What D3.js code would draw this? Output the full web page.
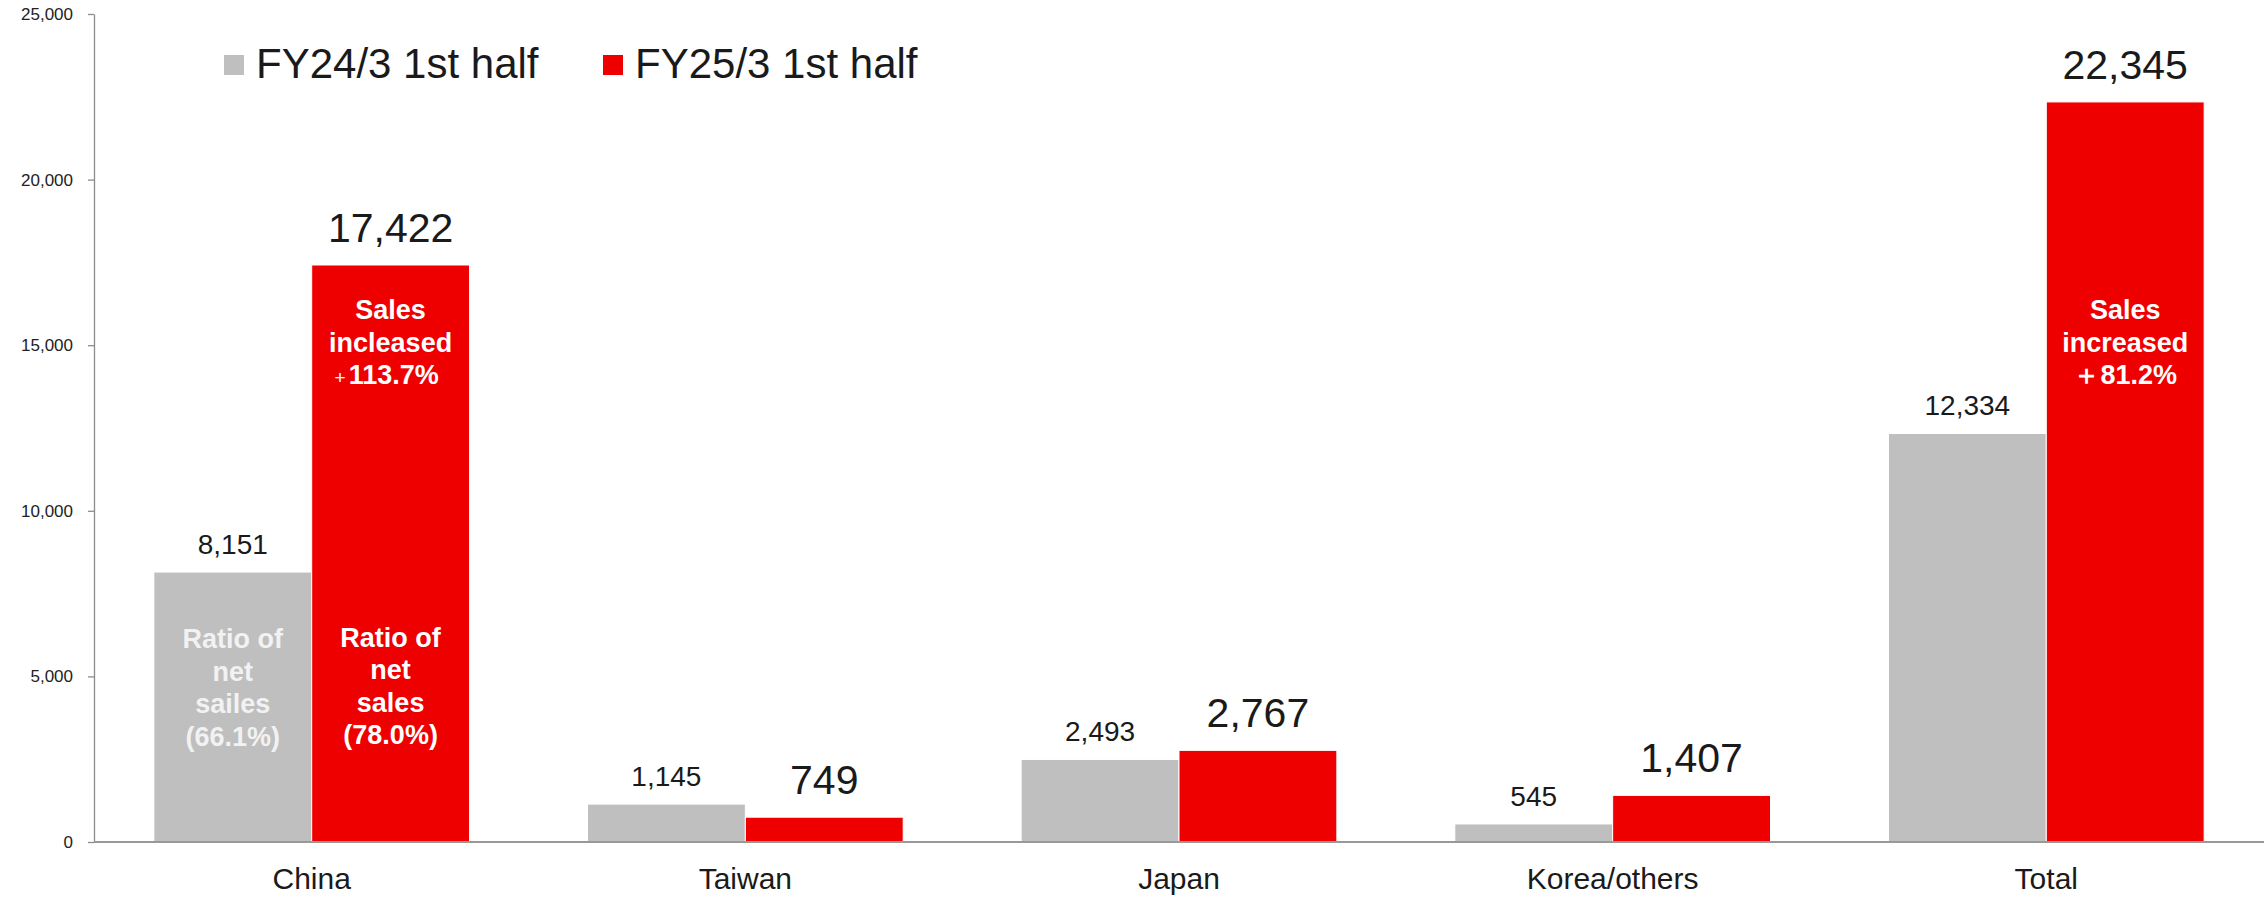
<!DOCTYPE html>
<html>
<head>
<meta charset="utf-8">
<script src="https://cdn.jsdelivr.net/npm/d3@7"></script>
<style>
  body { margin: 0; background: #fff; }
  svg { display: block; font-family: "Liberation Sans", Arial, sans-serif; }
</style>
</head>
<body>
<div id="chart"></div>
<script>
// Data
const categories = ["China", "Taiwan", "Japan", "Korea/others", "Total"];
const seriesNames = ["FY24/3 1st half", "FY25/3 1st half"];
const prevValues = [8151, 1145, 2493, 545, 12334];
const currValues = [17422, 749, 2767, 1407, 22345];
const yTicks = [0, 5000, 10000, 15000, 20000, 25000];

// Notes written inside bars: category, series index, lines, value of first baseline
const barNotes = [
  { cat: "China", s: 0, lines: ["Ratio of", "net", "sailes", "(66.1%)"], at: 5850 },
  { cat: "China", s: 1, lines: ["Ratio of", "net", "sales", "(78.0%)"], at: 5900 },
  { cat: "China", s: 1, lines: ["Sales", "incleased", "+113.7%"], at: 15790 },
  { cat: "Total", s: 1, lines: ["Sales", "increased", "＋81.2%"], at: 15790 }
];

const width = 2264;
const height = 897;
const margin = { top: 14, right: 0, bottom: 55, left: 94 };
const colors = ["#bfbfbf", "#ee0000"];
const noteColors = ["#f2f2f2", "#ffffff"];

const svg = d3.select("#chart")
  .append("svg")
  .attr("width", width)
  .attr("height", height);

const x0 = d3.scaleBand()
  .domain(categories)
  .range([margin.left, width - margin.right])
  .paddingInner(0.272)
  .paddingOuter(0.138);

const x1 = d3.scaleBand()
  .domain([0, 1])
  .range([0, x0.bandwidth()]);

const y = d3.scaleLinear()
  .domain([0, 25000])
  .range([height - margin.bottom, margin.top]);

const rows = categories.map((c, i) => ({ cat: c, vals: [prevValues[i], currValues[i]] }));

// Y axis
const yAxis = d3.axisLeft(y)
  .tickValues(yTicks)
  .tickFormat(d3.format(","))
  .tickSize(6)
  .tickSizeOuter(0)
  .tickPadding(15);

const gy = svg.append("g")
  .attr("transform", `translate(${margin.left},0)`)
  .call(yAxis);
gy.select(".domain").attr("stroke", "#8c8c8c").attr("stroke-width", 1.3);
gy.selectAll(".tick line").attr("stroke", "#8c8c8c").attr("stroke-width", 1.3);
gy.selectAll(".tick text")
  .attr("font-size", 17)
  .attr("fill", "#222")
  .attr("font-family", "Liberation Sans, Arial, sans-serif");

// Bars
const groups = svg.append("g")
  .selectAll("g")
  .data(rows)
  .join("g")
  .attr("transform", d => `translate(${x0(d.cat)},0)`);

groups.selectAll("rect")
  .data(d => d.vals.map((v, s) => ({ v, s })))
  .join("rect")
  .attr("x", d => x1(d.s))
  .attr("y", d => y(d.v))
  .attr("width", x1.bandwidth())
  .attr("height", d => y(0) - y(d.v))
  .attr("fill", d => colors[d.s])
  .attr("stroke", "#fff")
  .attr("stroke-width", 1);

// Value labels
groups.selectAll("text.value")
  .data(d => d.vals.map((v, s) => ({ v, s })))
  .join("text")
  .attr("class", "value")
  .attr("x", d => x1(d.s) + x1.bandwidth() / 2)
  .attr("y", d => y(d.v) - (d.s === 0 ? 18 : 23))
  .attr("text-anchor", "middle")
  .attr("font-size", d => d.s === 0 ? 28 : 41)
  .attr("fill", "#1a1a1a")
  .text(d => d3.format(",")(d.v));

// X baseline
svg.append("line")
  .attr("x1", margin.left)
  .attr("x2", width)
  .attr("y1", y(0))
  .attr("y2", y(0))
  .attr("stroke", "#999")
  .attr("stroke-width", 2);

// Category labels
svg.append("g")
  .selectAll("text")
  .data(categories)
  .join("text")
  .attr("x", d => x0(d) + x0.bandwidth() / 2)
  .attr("y", y(0) + 47)
  .attr("text-anchor", "middle")
  .attr("font-size", 30)
  .attr("fill", "#1a1a1a")
  .text(d => d);

// Notes inside bars
const noteLine = 32.5;
svg.append("g")
  .selectAll("text")
  .data(barNotes)
  .join("text")
  .attr("text-anchor", "middle")
  .attr("font-weight", "bold")
  .attr("font-size", 27)
  .attr("fill", d => noteColors[d.s])
  .each(function (d) {
    const cx = x0(d.cat) + x1(d.s) + x1.bandwidth() / 2;
    const top = y(d.at);
    const t = d3.select(this);
    d.lines.forEach((l, i) => {
      if (l.startsWith("+")) {
        // small plain plus sign in front of the figure
        t.append("tspan")
          .attr("x", cx - 4)
          .attr("y", top + i * noteLine)
          .attr("font-size", 19)
          .attr("font-weight", "normal")
          .text("+");
        t.append("tspan")
          .attr("dx", 3)
          .text(l.slice(1));
      } else {
        t.append("tspan")
          .attr("x", cx)
          .attr("y", top + i * noteLine)
          .text(l);
      }
    });
  });

// Legend
const legend = svg.append("g")
  .selectAll("g")
  .data(seriesNames)
  .join("g")
  .attr("transform", (d, i) => `translate(${[224, 603][i]},55)`);

legend.append("rect")
  .attr("width", 20)
  .attr("height", 20)
  .attr("fill", (d, i) => colors[i]);

legend.append("text")
  .attr("x", 32)
  .attr("y", 23)
  .attr("font-size", 42)
  .attr("fill", "#1a1a1a")
  .text(d => d);
</script>
</body>
</html>
